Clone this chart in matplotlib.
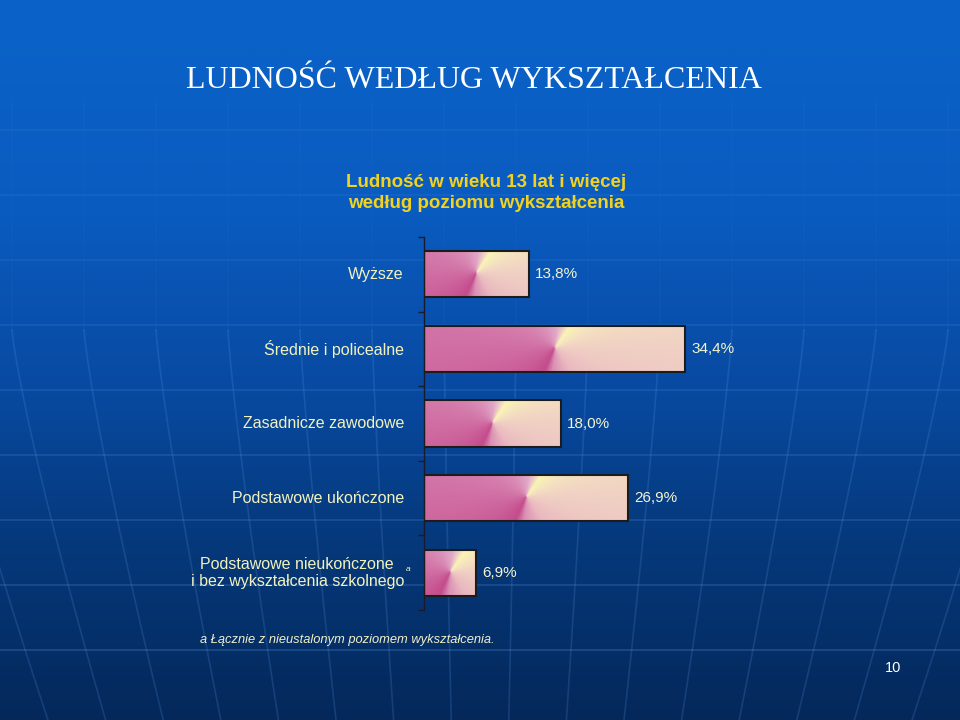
import numpy as np
import matplotlib
matplotlib.use("Agg")
import matplotlib.pyplot as plt
from matplotlib.colors import to_rgb
from matplotlib.transforms import offset_copy

# ---------------- data ----------------
categories = [
    "Wyższe",
    "Średnie i policealne",
    "Zasadnicze zawodowe",
    "Podstawowe ukończone",
    "Podstawowe nieukończone\ni bez wykształcenia szkolnego",
]
values = [13.8, 34.4, 18.0, 26.9, 6.9]
value_labels = ["13,8%", "34,4%", "18,0%", "26,9%", "6,9%"]
footnote_marks = ["", "", "", "", "a"]

title = "LUDNOŚĆ WEDŁUG WYKSZTAŁCENIA"
subtitle = "Ludność w wieku 13 lat i więcej\nwedług poziomu wykształcenia"
footnote = "a Łącznie z nieustalonym poziomem wykształcenia."
page_no = "10"

W, H = 960, 720
fig = plt.figure(figsize=(W / 100, H / 100), dpi=100)

# ---------------- background ----------------
bg = fig.add_axes([0, 0, 1, 1])
bg.set_xlim(0, W)
bg.set_ylim(H, 0)
bg.axis("off")
stops = [(0.0, "#0a63c9"), (0.3, "#0a5bbf"), (0.55, "#0849a0"),
         (0.72, "#063b80"), (1.0, "#04285a")]
yy = np.linspace(0, 1, 400)
cols = np.zeros((400, 3))
for k in range(3):
    cols[:, k] = np.interp(yy, [s[0] for s in stops], [to_rgb(s[1])[k] for s in stops])
grad = np.repeat(cols[:, None, :], 2, axis=1)
bg.imshow(grad, extent=(0, W, H, 0), aspect="auto", interpolation="bilinear", zorder=0)

# faint globe grid
for k in range(9):
    yl = 130 + 65 * k
    a = 0.06 + 0.22 * (yl / H)
    bg.plot([0, W], [yl, yl], color="#5a9ae8", alpha=a, lw=1.3, zorder=1)
cx = 480
for xt in np.arange(-60, 1040, 72):
    ys = np.linspace(330, H, 60)
    t = (ys - 330) / (H - 330)
    xs = xt + (cx - xt) * 0.2 * t ** 1.2
    bg.plot(xs, ys, color="#5a9ae8", alpha=0.2, lw=1.2, zorder=1)
    ys2 = np.linspace(100, 330, 30)
    bg.plot(np.full_like(ys2, xt), ys2, color="#5a9ae8", alpha=0.05, lw=1.2, zorder=1)

# ---------------- texts ----------------
fig.text(474 / W, 1 - 81 / H, title, fontsize=23, family="Liberation Serif",
         color="white", ha="center", va="center")
fig.text(486 / W, 1 - 193 / H, subtitle, fontsize=13.5, family="Liberation Sans",
         fontweight="bold", color="#f2d21e", ha="center", va="center",
         linespacing=1.35)
fig.text(200 / W, 1 - 640 / H, footnote, fontsize=9.3, family="Liberation Sans",
         style="italic", color="#f2f0c8", ha="left", va="center")
fig.text(893 / W, 1 - 668 / H, page_no, fontsize=10.5, family="Liberation Sans",
         color="white", ha="center", va="center")

# ---------------- chart ----------------
ax = fig.add_axes([424 / W, 1 - 610 / H, 304 / W, 373 / H])
ax.patch.set_alpha(0)
n = len(categories)
ax.set_xlim(0, 40)
ax.set_ylim(n - 0.5, -0.5)
for s in ["top", "right", "bottom"]:
    ax.spines[s].set_visible(False)
ax.spines["left"].set_color("#1a1a2a")
ax.spines["left"].set_linewidth(1.0)
ax.set_xticks([])
ax.set_yticks(np.arange(-0.5, n, 1.0))
ax.set_yticklabels([])
ax.tick_params(axis="y", length=4, width=1, color="#1a1a2a", direction="out")

bar_h = 0.62
ypos = np.arange(n)
bars = ax.barh(ypos, values, height=bar_h, facecolor="none",
               edgecolor="#1c1c1c", linewidth=1.5, zorder=3)

# conic gradient colours (clockwise angle from the highlight direction)
c_ang = [0, 25, 55, 110, 150, 170, 230, 290, 330, 350, 360]
c_col = ["#faf4b4", "#f5e4c0", "#f0d0c4", "#eab8c0", "#da90b4", "#c44c8c",
         "#d06ca2", "#d98cb6", "#e2a8c8", "#f0d4c4", "#faf4b4"]
c_rgb = np.array([to_rgb(c) for c in c_col])


def conic(wpx, hpx):
    wpx, hpx = max(int(round(wpx)), 2), max(int(round(hpx)), 2)
    r, c = np.mgrid[0:hpx, 0:wpx]
    dx = c + 0.5 - wpx * 0.5
    dy = hpx * 0.48 - (r + 0.5)
    th = np.degrees(np.arctan2(dy, dx))
    phi = (55 - th) % 360
    img = np.zeros((hpx, wpx, 3))
    for k in range(3):
        img[..., k] = np.interp(phi, c_ang, c_rgb[:, k])
    return img


for i, (b, v) in enumerate(zip(bars, values)):
    p0 = ax.transData.transform((0, i - bar_h / 2))
    p1 = ax.transData.transform((v, i + bar_h / 2))
    img = conic(abs(p1[0] - p0[0]), abs(p1[1] - p0[1]))
    im = ax.imshow(img, extent=(0, v, i + bar_h / 2, i - bar_h / 2),
                   origin="upper", aspect="auto", interpolation="bilinear", zorder=2)
    im.set_clip_path(b)

ax.set_xlim(0, 40)
ax.set_ylim(n - 0.5, -0.5)

lab_tr = offset_copy(ax.transData, fig=fig, x=-20, y=0, units="dots")
val_tr = offset_copy(ax.transData, fig=fig, x=6, y=0, units="dots")
for i, (cat, v, vl, fm) in enumerate(zip(categories, values, value_labels, footnote_marks)):
    ax.text(0, i, cat, transform=lab_tr, ha="right", va="center",
            multialignment="center", fontsize=11.5, family="Liberation Sans",
            color="#f2f2c0", linespacing=1.15)
    ax.text(v, i, vl, transform=val_tr, ha="left", va="center",
            fontsize=11, family="Liberation Sans", color="#f4f4d0")
    if fm:
        fm_tr = offset_copy(ax.transData, fig=fig, x=-16, y=0, units="dots")
        ax.text(0, i, fm, transform=fm_tr, ha="center", va="bottom",
                fontsize=6, style="italic", family="Liberation Sans", color="#f2f2c0")

fig.savefig("out.png", dpi=100)
